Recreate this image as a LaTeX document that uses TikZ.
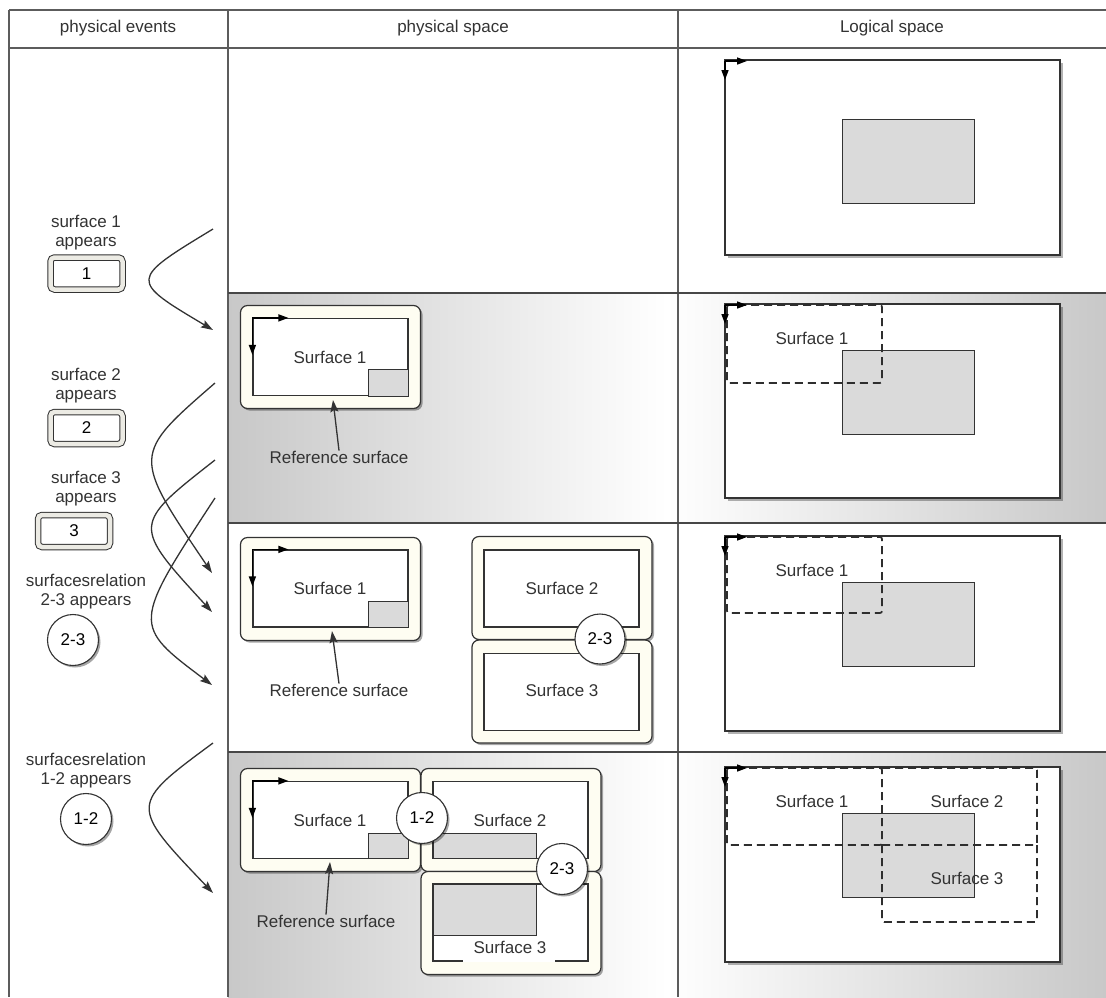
\documentclass[tikz,border=0pt]{standalone}
\usepackage{fontspec}
\setmainfont{Liberation Sans}
\usetikzlibrary{shadows,arrows.meta,calc}

\definecolor{ink}{HTML}{333333}
\definecolor{rulec}{HTML}{5C5C5C}
\definecolor{ivory}{HTML}{FEFDF2}
\definecolor{band}{HTML}{ECEBE4}
\definecolor{patchc}{HTML}{DADADA}
\definecolor{edgegray}{HTML}{C8C8C8}

\tikzset{
  rulel/.style={draw=rulec, line width=1.4pt},
  rowl/.style={draw=ink!90, line width=2pt},
  txt/.style={align=center, inner sep=0pt, text=ink},
  tipped/.style={draw=ink, line width=1.3pt, -{Stealth[length=12pt,width=8pt,inset=2pt]}},
  axis/.style={draw=black, line width=1.5pt, -{Triangle[length=10pt,width=7pt]}},
  softshadow/.style={drop shadow={shadow xshift=2pt, shadow yshift=-2pt, fill=black, opacity=0.35}},
  evbox/.style={draw=ink, line width=1pt, double=band, double distance=4.5pt,
    fill=white, rounded corners=4pt, minimum width=72pt, minimum height=32pt,
    inner sep=0pt, softshadow},
  relcirc/.style={circle, draw=ink, line width=1.1pt, fill=white,
    minimum size=51pt, inner sep=0pt, softshadow},
  surf/.style={draw=ink, line width=1.2pt, fill=ivory, rounded corners=7pt,
    minimum width=180pt, minimum height=103pt, inner sep=0pt, softshadow},
  inner/.style={draw=ink, line width=1.2pt, fill=white, minimum width=155pt,
    minimum height=77pt, inner sep=0pt},
  patch/.style={draw=ink, line width=1pt, fill=patchc},
  world/.style={draw=ink, line width=1.3pt, fill=white,
    drop shadow={shadow xshift=2.5pt, shadow yshift=-2.5pt, fill=black, opacity=0.3}},
  dashbox/.style={draw=ink!90!black, line width=1.7pt, dash pattern=on 8pt off 5pt, rounded corners=2pt},
}

\begin{document}
\begin{tikzpicture}[x=1pt, y=-1pt, font=\fontsize{17}{19}\selectfont]
\useasboundingbox (0,0) rectangle (1106,997);
\fill[white] (0,0) rectangle (1106,997);

% shaded rows
\shade[left color=edgegray, right color=edgegray, middle color=white] (228,293) rectangle (1106,523);
\shade[left color=edgegray, right color=edgegray, middle color=white] (228,752) rectangle (1106,997);

% table rules
\draw[rulel] (9,10) -- (1106,10);
\draw[rulel] (9,10) -- (9,997);
\draw[rulel] (9,48) -- (1106,48);
\draw[rulel] (228,10) -- (228,997);
\draw[rulel] (678,10) -- (678,997);
\draw[rowl] (228,293) -- (1106,293);
\draw[rowl] (228,523) -- (1106,523);
\draw[rowl] (228,752) -- (1106,752);

% headers
\node[txt] (h1) at (118,28) {physical events};
\node[txt] (h2) at (453,28) {physical space};
\node[txt] (h3) at (892,28) {Logical space};

% ---------- physical events ----------
\node[txt] (e1t) at (86,232.5) {surface 1\\appears};
\node[evbox] (e1) at (86.5,273.5) {1};
\node[txt] (e2t) at (86,385.5) {surface 2\\appears};
\node[evbox] (e2) at (86.5,428) {2};
\node[txt] (e3t) at (86,488.5) {surface 3\\appears};
\node[evbox] (e3) at (74,531) {3};
\node[txt] (e4t) at (86,591.5) {surfacesrelation\\2-3 appears};
\node[relcirc] (e4) at (73,640) {2-3};
\node[txt] (e5t) at (86,771) {surfacesrelation\\1-2 appears};
\node[relcirc] (e5) at (86,819) {1-2};

% event arrows
\coordinate (a1s) at (213,229);  \coordinate (a1e) at (213,330);
\coordinate (a2s) at (215,383);  \coordinate (a2e) at (212,573);
\coordinate (a3s) at (215,460);  \coordinate (a3e) at (212,612);
\coordinate (a4s) at (215,498);  \coordinate (a4e) at (212,685);
\coordinate (a5s) at (213,743);  \coordinate (a5e) at (213,893);
\draw[tipped] (a1s) .. controls (129,280) and (129,280) .. (a1e);
\draw[tipped] (a2s) .. controls (132,455) and (132,455) .. (a2e);
\draw[tipped] (a3s) .. controls (132,525) and (132,525) .. (a3e);
\draw[tipped] (a4s) .. controls (132,625) and (132,625) .. (a4e);
\draw[tipped] (a5s) .. controls (129,805) and (129,805) .. (a5e);

% ---------- physical space, row 2 ----------
\node[surf] (p2s1) at (330.5,357) {};
\node[inner] (p2s1i) at (330.5,357) {};
\draw[patch] (368,369) rectangle (408,396);
\node[txt] (p2s1l) at (330,357) {Surface 1};
\draw[axis] (p2s1i.north west) -- ++(36,0);
\draw[axis] (p2s1i.north west) -- ++(0,37);
\node[txt] (p2ref) at (339,457) {Reference surface};
\coordinate (p2refp) at (333,400);
\draw[tipped] (p2ref.north) -- (p2refp);

% ---------- physical space, row 3 ----------
\node[surf] (p3s1) at (330.5,589) {};
\node[inner] (p3s1i) at (330.5,588.5) {};
\draw[patch] (368,601) rectangle (408,627);
\node[txt] (p3s1l) at (330,588) {Surface 1};
\draw[axis] (p3s1i.north west) -- ++(36,0);
\draw[axis] (p3s1i.north west) -- ++(0,37);
\node[txt] (p3ref) at (339,690) {Reference surface};
\coordinate (p3refp) at (332,631);
\draw[tipped] (p3ref.north) -- (p3refp);

\node[surf] (p3s2) at (562,588) {};
\node[inner] (p3s2i) at (561.5,588.5) {};
\node[txt] (p3s2l) at (562,588) {Surface 2};
\node[surf] (p3s3) at (562,691.5) {};
\node[inner] (p3s3i) at (561.5,692) {};
\node[txt] (p3s3l) at (562,690) {Surface 3};
\node[relcirc, minimum size=50pt] (p3r23) at (600,639) {2-3};

% ---------- physical space, row 4 ----------
\node[surf] (p4s1) at (330.5,820) {};
\node[inner] (p4s1i) at (330.5,820) {};
\draw[patch] (368,833) rectangle (408,858);
\node[txt] (p4s1l) at (330,820) {Surface 1};
\draw[axis] (p4s1i.north west) -- ++(36,0);
\draw[axis] (p4s1i.north west) -- ++(0,37);
\node[txt] (p4ref) at (326,921) {Reference surface};
\coordinate (p4refp) at (330,862);
\draw[tipped] (p4ref.north) -- (p4refp);

\node[surf] (p4s2) at (511,820) {};
\node[inner] (p4s2i) at (510.5,820) {};
\draw[patch] (433,833) rectangle (536,858);
\node[txt] (p4s2l) at (510,820) {Surface 2};

\node[surf] (p4s3) at (511,923) {};
\node[inner] (p4s3i) at (510.5,922.5) {};
\draw[patch] (433,884) rectangle (536,935);
\draw[white, line width=2pt] (463,961) -- (555,961);
\node[txt] (p4s3l) at (510,947) {Surface 3};

\node[relcirc] (p4r12) at (422,818) {1-2};
\node[relcirc] (p4r23) at (562,869) {2-3};

% ---------- logical space ----------
% row 1
\draw[world] (725,60) rectangle (1060,255);
\draw[patch] (842,119) rectangle (974,203);
\coordinate (o1) at (725,61);
\draw[axis] (o1) -- ++(22,0);
\draw[axis] (o1) -- ++(0,19);

% row 2
\draw[world] (725,304) rectangle (1060,498);
\draw[patch] (842,350) rectangle (974,434);
\draw[dashbox] (727,305) rectangle (882,383);
\node[txt] (l2s1) at (812,338) {Surface 1};
\coordinate (o2) at (725,305);
\draw[axis] (o2) -- ++(22,0);
\draw[axis] (o2) -- ++(0,19);

% row 3
\draw[world] (725,536) rectangle (1060,731);
\draw[patch] (842,582) rectangle (974,666);
\draw[dashbox] (727,537) rectangle (882,613);
\node[txt] (l3s1) at (812,570) {Surface 1};
\coordinate (o3) at (725,537);
\draw[axis] (o3) -- ++(22,0);
\draw[axis] (o3) -- ++(0,19);

% row 4: three footprints sharing edges, each shared edge stroked once
\draw[world] (725,767) rectangle (1060,962);
\draw[patch] (842,813) rectangle (974,897);
\draw[dashbox] (727,768) rectangle (882,845);
\draw[dashbox] (882,768) -- (1037,768) -- (1037,845) -- (882,845);
\draw[dashbox] (882,845) -- (882,922) -- (1037,922) -- (1037,845);
\node[txt] (l4s1) at (812,801) {Surface 1};
\node[txt] (l4s2) at (967,801) {Surface 2};
\node[txt] (l4s3) at (967,878) {Surface 3};
\coordinate (o4) at (725,768);
\draw[axis] (o4) -- ++(22,0);
\draw[axis] (o4) -- ++(0,19);
\end{tikzpicture}
\end{document}
